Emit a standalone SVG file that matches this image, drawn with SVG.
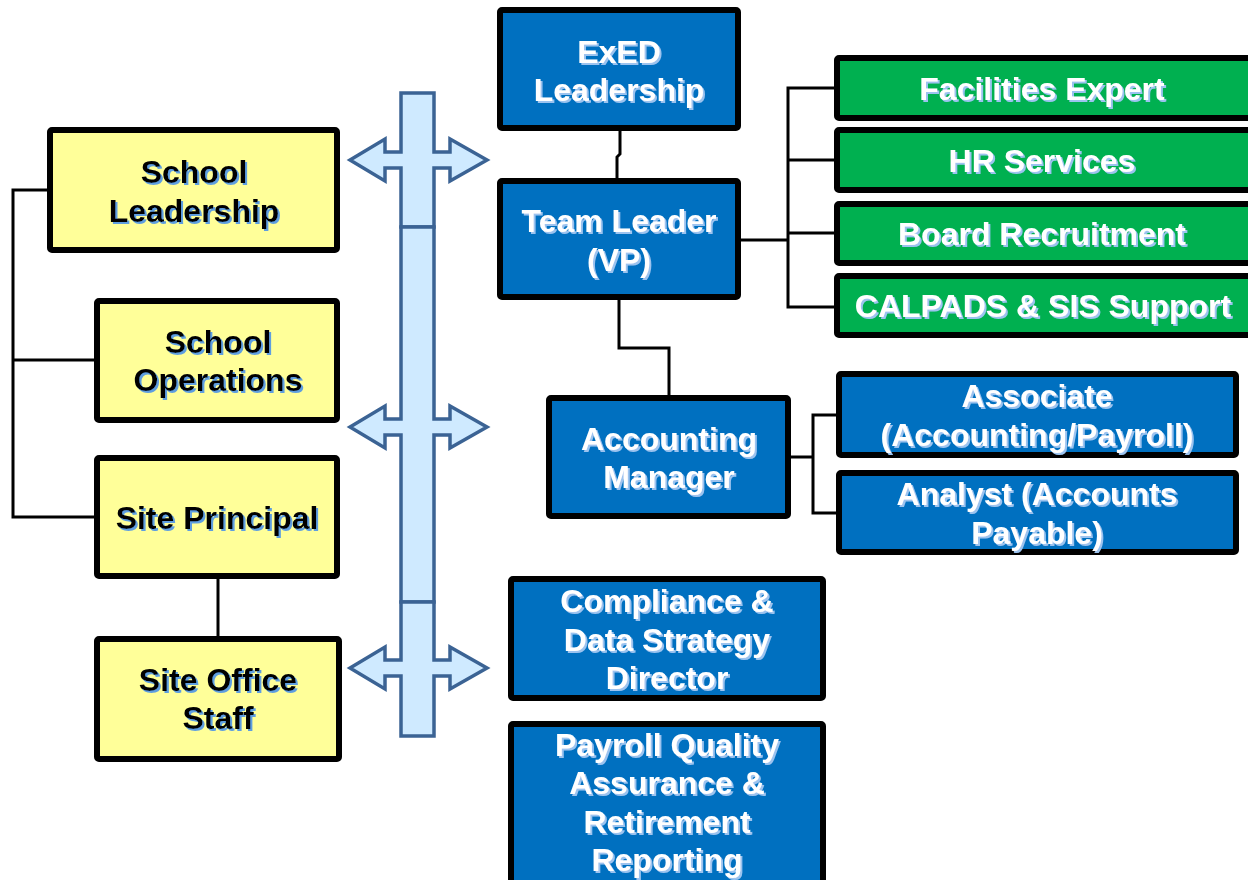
<svg xmlns="http://www.w3.org/2000/svg" width="1248" height="880" viewBox="0 0 1248 880">
  <defs>
    <filter id="shadowLight" x="-10%" y="-10%" width="130%" height="130%">
      <feOffset in="SourceAlpha" dx="2" dy="2" result="off"/>
      <feFlood flood-color="#9cc3ef"/>
      <feComposite in2="off" operator="in" result="sh"/>
      <feMerge><feMergeNode in="sh"/><feMergeNode in="SourceGraphic"/></feMerge>
    </filter>
    <filter id="shadowDark" x="-10%" y="-10%" width="130%" height="130%">
      <feOffset in="SourceAlpha" dx="2" dy="2" result="off"/>
      <feFlood flood-color="#5e9ee0"/>
      <feComposite in2="off" operator="in" result="sh"/>
      <feMerge><feMergeNode in="sh"/><feMergeNode in="SourceGraphic"/></feMerge>
    </filter>
    <style>
      .box { stroke: #000; stroke-width: 6; }
      .blue { fill: #0070c0; }
      .green { fill: #00b050; }
      .yellow { fill: #ffff99; }
      .lbl { font-family: "Liberation Sans", Arial, sans-serif; font-weight: bold; font-size: 32px; text-anchor: middle; }
      .w { fill: #ffffff; filter: url(#shadowLight); }
      .k { fill: #000000; filter: url(#shadowDark); }
      .conn { fill: none; stroke: #000; stroke-width: 3; }
      .xarrow { fill: #cfeaff; stroke: #3b6394; stroke-width: 3.5; stroke-linejoin: miter; }
    </style>
  </defs>

  <rect width="1248" height="880" fill="#ffffff"/>

  <!-- connectors -->
  <g id="connectors">
    <!-- school side -->
    <path class="conn" d="M50,190 H13 V517 H97 M13,360 H97"/>
    <path class="conn" d="M218,576 V639"/>
    <!-- ExED to Team Leader -->
    <path class="conn" d="M620,128 V154 L617,157 V181"/>
    <!-- Team Leader to Accounting Manager -->
    <path class="conn" d="M619,297 V348 H669 V398"/>
    <!-- Team Leader to support services -->
    <path class="conn" d="M738,240 H788 M837,88 H788 V307 H837 M788,160 H837 M788,233 H837"/>
    <!-- Accounting Manager to staff -->
    <path class="conn" d="M788,457 H813 M839,415 H813 V513 H839"/>
  </g>

  <!-- two-way communication bar -->
  <g id="comm-bar">
    <path class="xarrow" d="M401,93 H434 V152 H450 V139 L487,160 L450,181 V168 H434 V227 H401 V168 H385 V181 L350,160 L385,139 V152 H401 Z"/>
    <path class="xarrow" d="M401,227 H434 V419 H450 V406 L487,427 L450,448 V435 H434 V602 H401 V435 H385 V448 L350,427 L385,406 V419 H401 Z"/>
    <path class="xarrow" d="M401,602 H434 V660 H450 V647 L487,668 L450,689 V676 H434 V736 H401 V676 H385 V689 L350,668 L385,647 V660 H401 Z"/>
  </g>

  <!-- school-side nodes -->
  <g id="school-leadership">
    <rect class="box yellow" x="50" y="130" width="287" height="120" rx="2"/>
    <text class="lbl k" x="194" y="183">School</text>
    <text class="lbl k" x="194" y="222">Leadership</text>
  </g>
  <g id="school-operations">
    <rect class="box yellow" x="97" y="301" width="240" height="119" rx="2"/>
    <text class="lbl k" x="218" y="353">School</text>
    <text class="lbl k" x="218" y="391">Operations</text>
  </g>
  <g id="site-principal">
    <rect class="box yellow" x="97" y="458" width="240" height="118" rx="2"/>
    <text class="lbl k" x="217" y="529">Site Principal</text>
  </g>
  <g id="site-office-staff">
    <rect class="box yellow" x="97" y="639" width="242" height="120" rx="2"/>
    <text class="lbl k" x="218" y="691">Site Office</text>
    <text class="lbl k" x="218" y="729">Staff</text>
  </g>

  <!-- central office nodes -->
  <g id="exed-leadership">
    <rect class="box blue" x="500" y="10" width="238" height="118" rx="2"/>
    <text class="lbl w" x="619" y="63">ExED</text>
    <text class="lbl w" x="619" y="101">Leadership</text>
  </g>
  <g id="team-leader">
    <rect class="box blue" x="500" y="181" width="238" height="116" rx="2"/>
    <text class="lbl w" x="619" y="232">Team Leader</text>
    <text class="lbl w" x="619" y="271">(VP)</text>
  </g>
  <g id="facilities-expert">
    <rect class="box green" x="837" y="58" width="420" height="60" rx="2"/>
    <text class="lbl w" x="1042" y="100">Facilities Expert</text>
  </g>
  <g id="hr-services">
    <rect class="box green" x="837" y="130" width="420" height="60" rx="2"/>
    <text class="lbl w" x="1042" y="172">HR Services</text>
  </g>
  <g id="board-recruitment">
    <rect class="box green" x="837" y="204" width="420" height="59" rx="2"/>
    <text class="lbl w" x="1042" y="245">Board Recruitment</text>
  </g>
  <g id="calpads-sis">
    <rect class="box green" x="837" y="276" width="420" height="59" rx="2"/>
    <text class="lbl w" x="1043" y="317">CALPADS &amp; SIS Support</text>
  </g>
  <g id="accounting-manager">
    <rect class="box blue" x="549" y="398" width="239" height="118" rx="2"/>
    <text class="lbl w" x="669" y="450">Accounting</text>
    <text class="lbl w" x="669" y="488">Manager</text>
  </g>
  <g id="associate">
    <rect class="box blue" x="839" y="374" width="397" height="81" rx="2"/>
    <text class="lbl w" x="1037" y="407">Associate</text>
    <text class="lbl w" x="1037" y="446">(Accounting/Payroll)</text>
  </g>
  <g id="analyst">
    <rect class="box blue" x="839" y="473" width="397" height="79" rx="2"/>
    <text class="lbl w" x="1037" y="505">Analyst (Accounts</text>
    <text class="lbl w" x="1037" y="544">Payable)</text>
  </g>
  <g id="compliance-director">
    <rect class="box blue" x="511" y="579" width="312" height="119" rx="2"/>
    <text class="lbl w" x="667" y="612">Compliance &amp;</text>
    <text class="lbl w" x="667" y="651">Data Strategy</text>
    <text class="lbl w" x="667" y="689">Director</text>
  </g>
  <g id="payroll-qa">
    <rect class="box blue" x="511" y="724" width="312" height="200" rx="2"/>
    <text class="lbl w" x="667" y="756">Payroll Quality</text>
    <text class="lbl w" x="667" y="794">Assurance &amp;</text>
    <text class="lbl w" x="667" y="833">Retirement</text>
    <text class="lbl w" x="667" y="871">Reporting</text>
  </g>
</svg>
